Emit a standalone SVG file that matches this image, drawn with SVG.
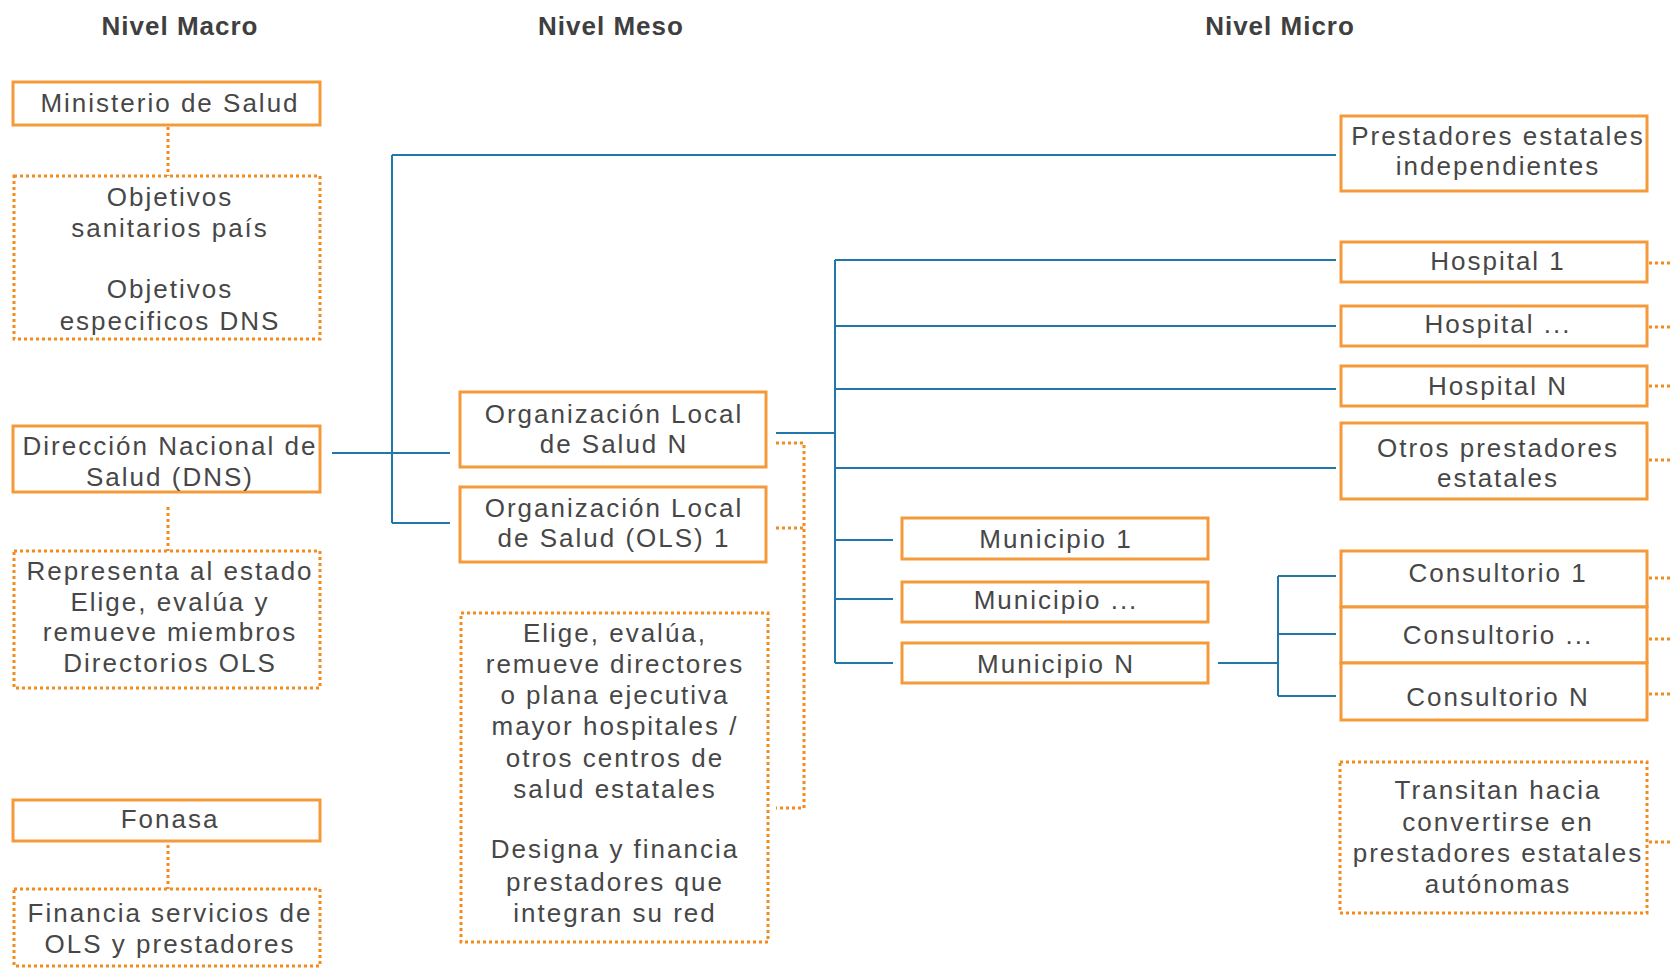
<svg xmlns="http://www.w3.org/2000/svg" width="1672" height="968" viewBox="0 0 1672 968">
<style>
.bg{fill:#fff}
.box{fill:#fff;stroke:#F59A3A;stroke-width:3}
.dbox{fill:none;stroke:#F58A1F;stroke-width:3;stroke-dasharray:3 3}
.dl{fill:none;stroke:#F58A1F;stroke-width:3;stroke-dasharray:3 3}
.bl{fill:none;stroke:#2277AA;stroke-width:2}
text{font-family:"Liberation Sans",Arial,sans-serif;font-size:26px;fill:#474747;text-anchor:middle;letter-spacing:2px}
.h{font-weight:bold;font-size:26px;fill:#3f3f3f;letter-spacing:1px}
</style>
<rect class="bg" x="0" y="0" width="1672" height="968"/>
<g id="headers">
<text class="h" x="180" y="35">Nivel Macro</text>
<text class="h" x="611" y="35">Nivel Meso</text>
<text class="h" x="1280" y="35">Nivel Micro</text>
</g>
<g id="connectors">
<path class="bl" d="M332,453 H450 M392,155 V523 M392,155 H1336 M392,523 H450"/>
<path class="bl" d="M776,433 H835 M835,260 V663 M835,260 H1336 M835,326 H1336 M835,389 H1336 M835,468 H1336 M835,540 H893 M835,599 H893 M835,663 H893"/>
<path class="bl" d="M1218,663 H1278 M1278,576 V696 M1278,576 H1336 M1278,634 H1336 M1278,696 H1336"/>
<path class="dl" d="M168,127 V176 M168,507 V551 M168,845 V889"/>
<path class="dl" d="M776,443 H804 V808 H776 M776,528 H804"/>
<path class="dl" d="M1649,263 H1672 M1649,327 H1672 M1649,386 H1672 M1649,460 H1672 M1649,578 H1672 M1649,639 H1672 M1649,694 H1672 M1649,842 H1672"/>
</g>
<g id="ministerio"><rect class="box" x="13" y="82" width="307" height="43"/><text x="170" y="112">Ministerio de Salud</text></g>
<g id="objetivos"><rect class="dbox" x="14" y="176" width="306" height="163"/><text x="170" y="206">Objetivos</text><text x="170" y="237">sanitarios país</text><text x="170" y="298">Objetivos</text><text x="170" y="330">especificos DNS</text></g>
<g id="dns"><rect class="box" x="13" y="426" width="307" height="66"/><text x="170" y="455">Dirección Nacional de</text><text x="170" y="486">Salud (DNS)</text></g>
<g id="representa"><rect class="dbox" x="14" y="551" width="306" height="137"/><text x="170" y="580">Representa al estado</text><text x="170" y="611">Elige, evalúa y</text><text x="170" y="641">remueve miembros</text><text x="170" y="672">Directorios OLS</text></g>
<g id="fonasa"><rect class="box" x="13" y="800" width="307" height="41"/><text x="170" y="828">Fonasa</text></g>
<g id="financia"><rect class="dbox" x="14" y="889" width="306" height="77"/><text x="170" y="922">Financia servicios de</text><text x="170" y="953">OLS y prestadores</text></g>
<g id="olsN"><rect class="box" x="460" y="392" width="306" height="75"/><text x="614" y="423">Organización Local</text><text x="614" y="453">de Salud N</text></g>
<g id="ols1"><rect class="box" x="460" y="487" width="306" height="75"/><text x="614" y="517">Organización Local</text><text x="614" y="547">de Salud (OLS) 1</text></g>
<g id="elige"><rect class="dbox" x="461" y="613" width="307" height="329"/><text x="615" y="642">Elige, evalúa,</text><text x="615" y="673">remueve directores</text><text x="615" y="704">o plana ejecutiva</text><text x="615" y="735">mayor hospitales /</text><text x="615" y="767">otros centros de</text><text x="615" y="798">salud estatales</text><text x="615" y="858">Designa y financia</text><text x="615" y="891">prestadores que</text><text x="615" y="922">integran su red</text></g>
<g id="prestadores"><rect class="box" x="1341" y="116" width="306" height="75"/><text x="1498" y="145">Prestadores estatales</text><text x="1498" y="175">independientes</text></g>
<g id="hospital1"><rect class="box" x="1341" y="242" width="306" height="40"/><text x="1498" y="270">Hospital 1</text></g>
<g id="hospitalx"><rect class="box" x="1341" y="306" width="306" height="40"/><text x="1498" y="333">Hospital ...</text></g>
<g id="hospitalN"><rect class="box" x="1341" y="366" width="306" height="40"/><text x="1498" y="395">Hospital N</text></g>
<g id="otros"><rect class="box" x="1341" y="423" width="306" height="76"/><text x="1498" y="457">Otros prestadores</text><text x="1498" y="487">estatales</text></g>
<g id="municipio1"><rect class="box" x="902" y="518" width="306" height="41"/><text x="1056" y="548">Municipio 1</text></g>
<g id="municipiox"><rect class="box" x="902" y="582" width="306" height="40"/><text x="1056" y="609">Municipio ...</text></g>
<g id="municipioN"><rect class="box" x="902" y="643" width="306" height="40"/><text x="1056" y="673">Municipio N</text></g>
<g id="consultorio1"><rect class="box" x="1341" y="551" width="306" height="56"/><text x="1498" y="582">Consultorio 1</text></g>
<g id="consultoriox"><rect class="box" x="1341" y="607" width="306" height="56"/><text x="1498" y="644">Consultorio ...</text></g>
<g id="consultorioN"><rect class="box" x="1341" y="663" width="306" height="57"/><text x="1498" y="706">Consultorio N</text></g>
<g id="transitan"><rect class="dbox" x="1340" y="762" width="307" height="151"/><text x="1498" y="799">Transitan hacia</text><text x="1498" y="831">convertirse en</text><text x="1498" y="862">prestadores estatales</text><text x="1498" y="893">autónomas</text></g>
</svg>
